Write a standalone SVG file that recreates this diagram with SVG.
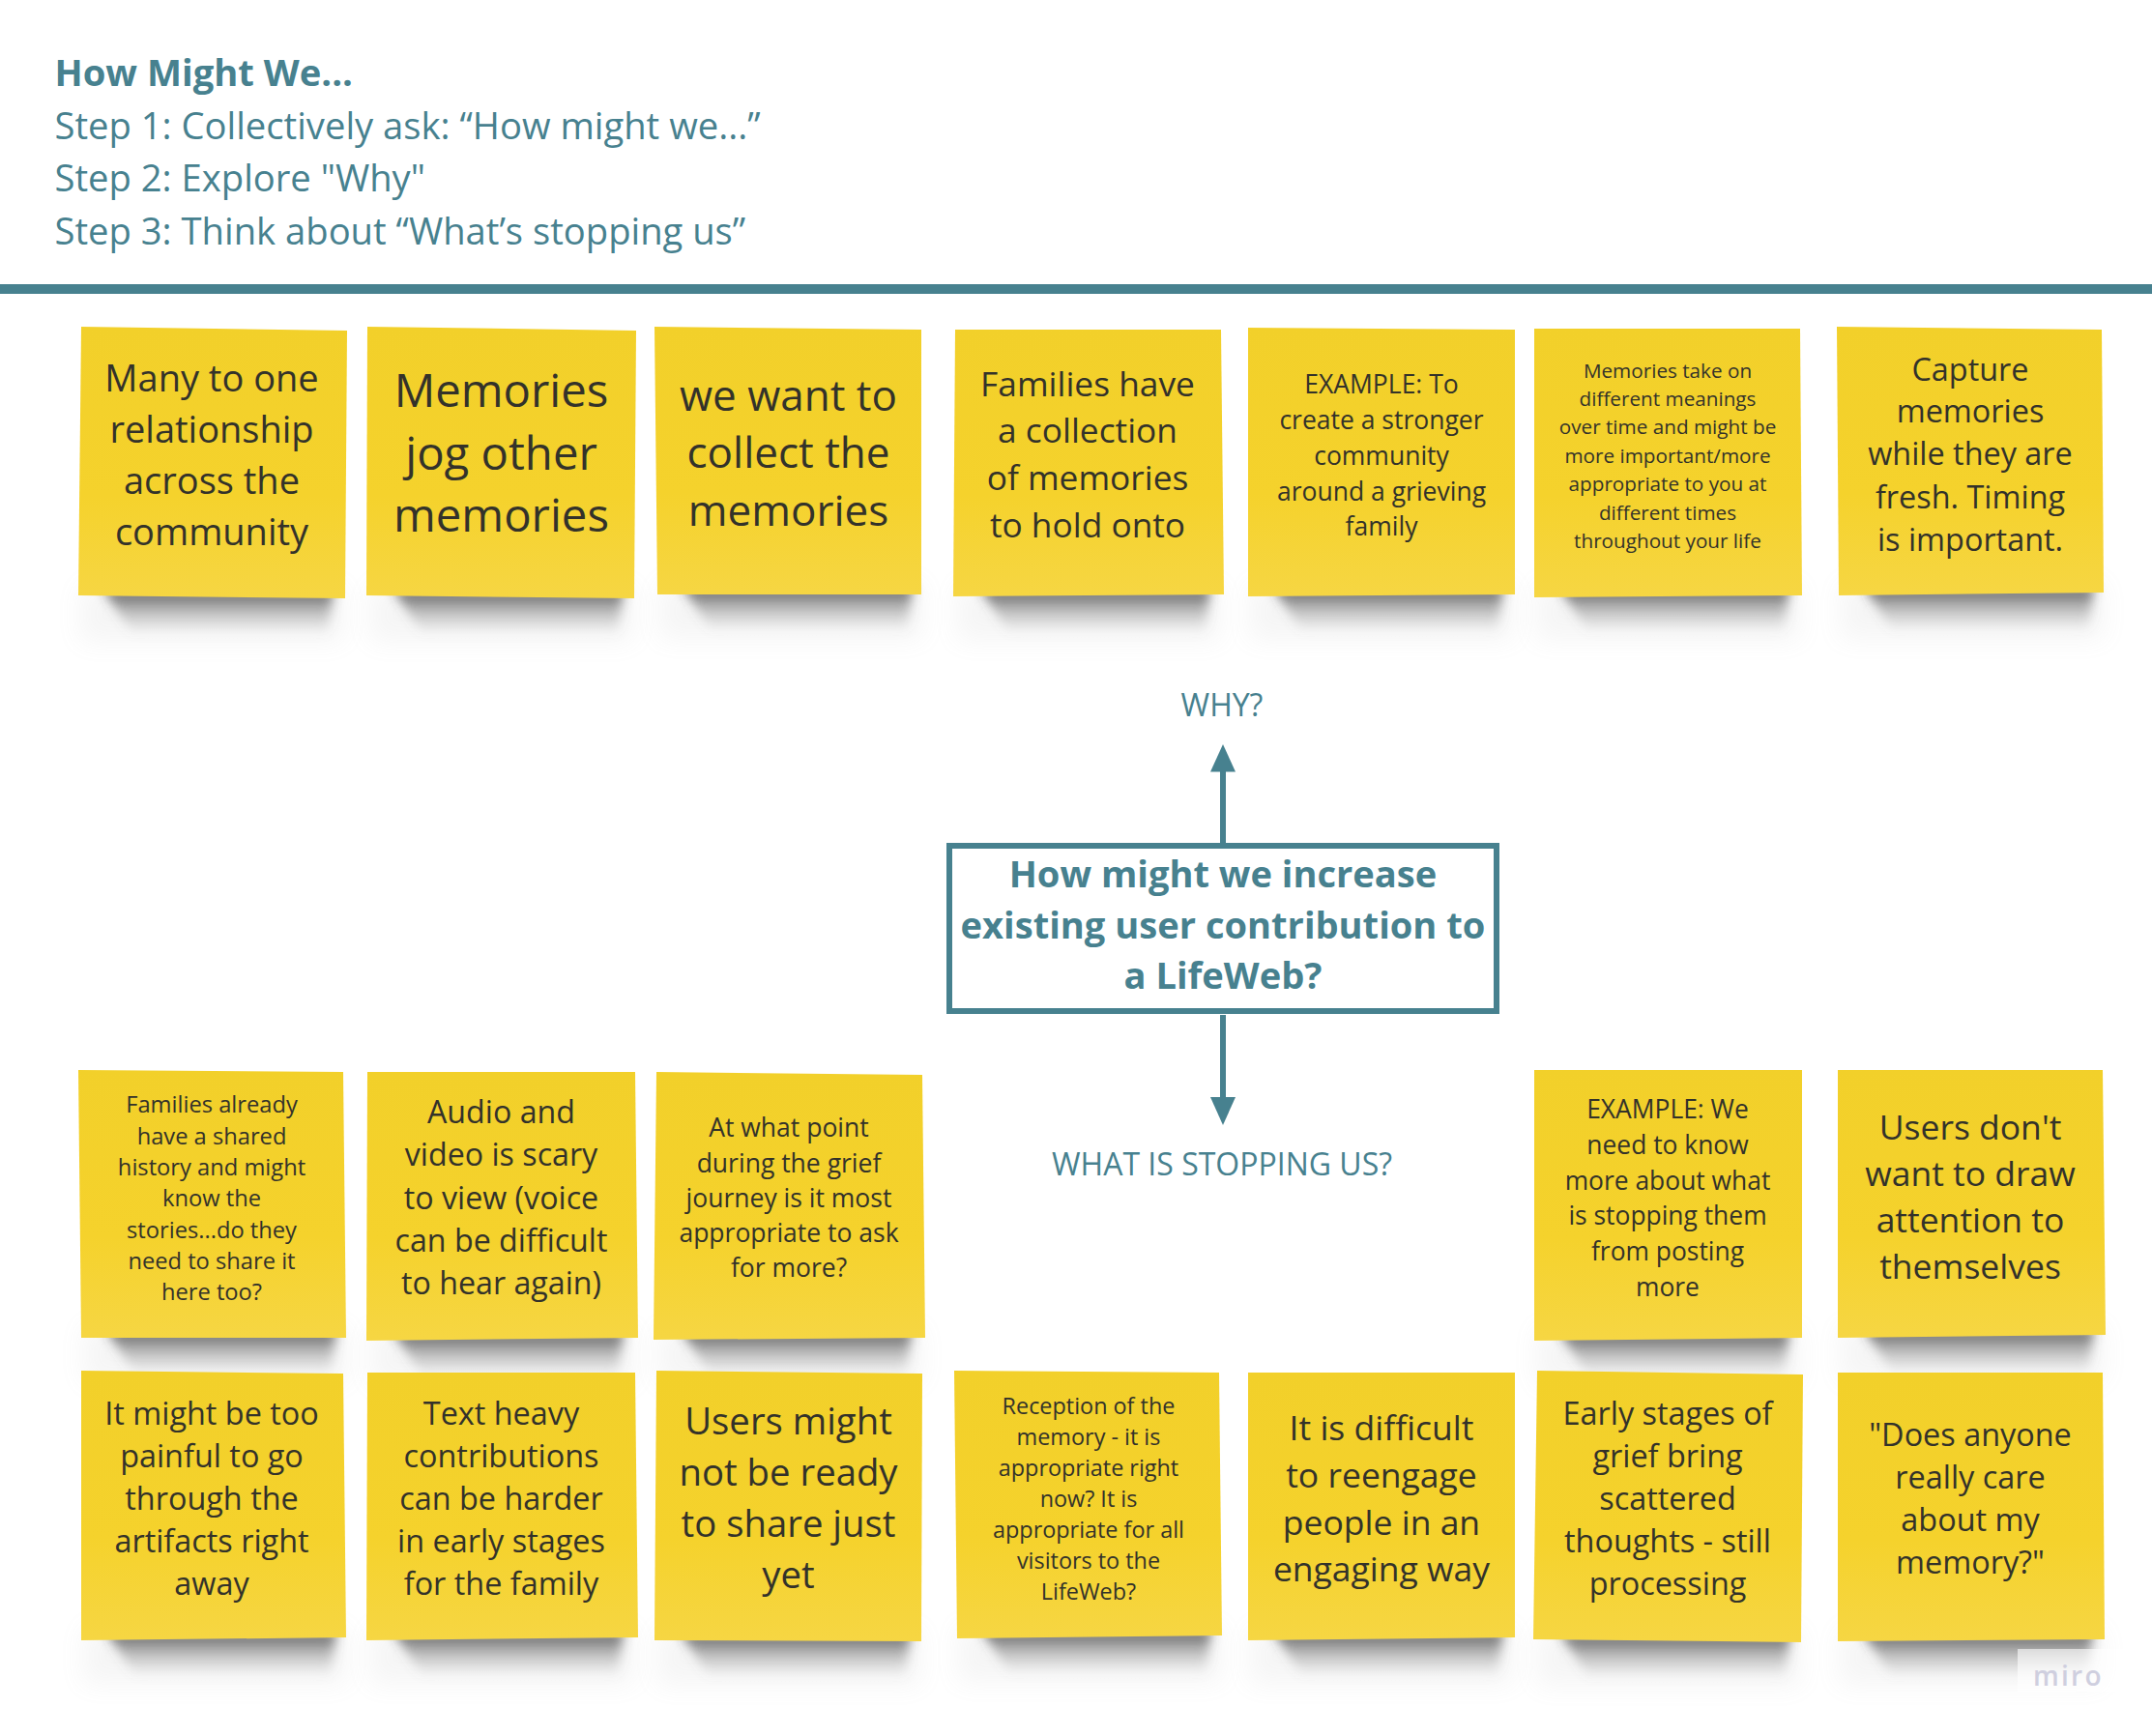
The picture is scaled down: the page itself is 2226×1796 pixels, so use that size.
<svg xmlns="http://www.w3.org/2000/svg" width="2226" height="1796" viewBox="0 0 2226 1796">
<style>
text{font-family:"Open Sans","Noto Sans",sans-serif}
.n text{fill:#33322a;text-anchor:middle}
.note{fill:url(#ng)}
.t{fill:#47818f}
.c{text-anchor:middle}
.conn line{stroke:#47818f;stroke-width:6}
.conn polygon{fill:#47818f}
</style>
<defs>
<linearGradient id="ng" x1="0" y1="0" x2="0" y2="1"><stop offset="0" stop-color="#f2d02a"/><stop offset=".62" stop-color="#f5d22c"/><stop offset="1" stop-color="#f6d643"/></linearGradient>
<linearGradient id="sg" x1="0" y1="0" x2="0" y2="1"><stop offset="0" stop-color="#2a2a2a" stop-opacity=".8"/><stop offset=".4" stop-color="#555" stop-opacity=".45"/><stop offset="1" stop-color="#888" stop-opacity="0"/></linearGradient>
<filter id="b1" x="-20%" y="-60%" width="140%" height="220%"><feGaussianBlur stdDeviation="6"/></filter>
<filter id="b2" x="-20%" y="-60%" width="140%" height="220%"><feGaussianBlur stdDeviation="13"/></filter>
<g id="shadow">
<rect x="2" y="-12" width="272" height="58" fill="#999" opacity=".09" filter="url(#b2)"/>
<polygon points="26,-8 264,-8 258,38 56,38" fill="url(#sg)" filter="url(#b1)"/>
</g>
</defs>
<rect width="2226" height="1796" fill="#fff"/>
<g id="header" class="t">
<text x="56.500" y="89" font-size="38.200" font-weight="700">How Might We...</text>
<text x="56.500" y="144" font-size="38.200">Step 1: Collectively ask: “How might we...”</text>
<text x="56.500" y="198" font-size="38.200">Step 2: Explore "Why"</text>
<text x="56.500" y="252.500" font-size="38.200">Step 3: Think about “What’s stopping us”</text>
</g>
<rect id="divider" x="0" y="294" width="2226" height="10" fill="#47818f"/>

<g id="n1" class="n"><use href="#shadow" x="81" y="618"/><polygon class="note" points="84,338 359,342 357,619 81,616"/><g font-size="38"><text x="219" y="404.500">Many to one</text><text x="219" y="457.500">relationship</text><text x="219" y="510.500">across the</text><text x="219" y="563.500">community</text></g></g>
<g id="n2" class="n"><use href="#shadow" x="381" y="618"/><polygon class="note" points="380,338 658,342 656,619 379,616"/><g font-size="47.300"><text x="518.500" y="421">Memories</text><text x="518.500" y="485.500">jog other</text><text x="518.500" y="550">memories</text></g></g>
<g id="n3" class="n"><use href="#shadow" x="680" y="615"/><polygon class="note" points="677,338 953,341 953,615 680,615"/><g font-size="44"><text x="815.500" y="424.500">we want to</text><text x="815.500" y="484">collect the</text><text x="815.500" y="543.500">memories</text></g></g>
<g id="n4" class="n"><use href="#shadow" x="988" y="617"/><polygon class="note" points="988,341 1263,341 1266,615 986,617"/><g font-size="35.300"><text x="1125" y="409.500">Families have</text><text x="1125" y="458">a collection</text><text x="1125" y="507">of memories</text><text x="1125" y="556">to hold onto</text></g></g>
<g id="n5" class="n"><use href="#shadow" x="1291" y="616"/><polygon class="note" points="1291,339 1567,341 1567,615 1291,617"/><g font-size="26.500"><text x="1429" y="407">EXAMPLE: To</text><text x="1429" y="444">create a stronger</text><text x="1429" y="481">community</text><text x="1429" y="517.500">around a grieving</text><text x="1429" y="554">family</text></g></g>
<g id="n6" class="n"><use href="#shadow" x="1587" y="616"/><polygon class="note" points="1587,340 1862,340 1864,616 1587,618"/><g font-size="20.700"><text x="1725" y="390.700">Memories take on</text><text x="1725" y="419.700">different meanings</text><text x="1725" y="449.300">over time and might be</text><text x="1725" y="479">more important/more</text><text x="1725" y="508">appropriate to you at</text><text x="1725" y="537.700">different times</text><text x="1725" y="567">throughout your life</text></g></g>
<g id="n7" class="n"><use href="#shadow" x="1902" y="615"/><polygon class="note" points="1900,338 2174,341 2176,613 1902,616"/><g font-size="32.400"><text x="2038" y="393.500">Capture</text><text x="2038" y="437">memories</text><text x="2038" y="481">while they are</text><text x="2038" y="525.500">fresh. Timing</text><text x="2038" y="569.500">is important.</text></g></g>

<g id="m1" class="n"><use href="#shadow" x="84" y="1384"/><polygon class="note" points="81,1107 355,1109 358,1384 84,1384"/><g font-size="23.700"><text x="219" y="1151">Families already</text><text x="219" y="1183.500">have a shared</text><text x="219" y="1215.700">history and might</text><text x="219" y="1248">know the</text><text x="219" y="1280.500">stories...do they</text><text x="219" y="1312.700">need to share it</text><text x="219" y="1345">here too?</text></g></g>
<g id="m2" class="n"><use href="#shadow" x="381" y="1386"/><polygon class="note" points="380,1109 657,1109 660,1384 379,1387"/><g font-size="32.200"><text x="518.500" y="1161.500">Audio and</text><text x="518.500" y="1206">video is scary</text><text x="518.500" y="1250.500">to view (voice</text><text x="518.500" y="1295">can be difficult</text><text x="518.500" y="1339">to hear again)</text></g></g>
<g id="m3" class="n"><use href="#shadow" x="679" y="1385"/><polygon class="note" points="679,1109 954,1112 957,1384 676,1386"/><g font-size="26.500"><text x="816" y="1176">At what point</text><text x="816" y="1212.500">during the grief</text><text x="816" y="1249">journey is it most</text><text x="816" y="1285">appropriate to ask</text><text x="816" y="1321">for more?</text></g></g>
<g id="m6" class="n"><use href="#shadow" x="1587" y="1386"/><polygon class="note" points="1587,1107 1864,1107 1864,1384 1587,1387"/><g font-size="26.400"><text x="1725" y="1157">EXAMPLE: We</text><text x="1725" y="1194">need to know</text><text x="1725" y="1231">more about what</text><text x="1725" y="1267">is stopping them</text><text x="1725" y="1304">from posting</text><text x="1725" y="1341">more</text></g></g>
<g id="m7" class="n"><use href="#shadow" x="1902" y="1383"/><polygon class="note" points="1901,1107 2175,1107 2178,1381 1901,1384"/><g font-size="35.500"><text x="2038" y="1178.500">Users don't</text><text x="2038" y="1226.500">want to draw</text><text x="2038" y="1275">attention to</text><text x="2038" y="1323">themselves</text></g></g>

<g id="b1n" class="n"><use href="#shadow" x="84" y="1696"/><polygon class="note" points="84,1418 355,1421 358,1694 84,1697"/><g font-size="32.400"><text x="219" y="1473.500">It might be too</text><text x="219" y="1517.500">painful to go</text><text x="219" y="1561.500">through the</text><text x="219" y="1605.500">artifacts right</text><text x="219" y="1649.500">away</text></g></g>
<g id="b2n" class="n"><use href="#shadow" x="381" y="1696"/><polygon class="note" points="380,1420 657,1420 660,1694 379,1697"/><g font-size="32.400"><text x="518.500" y="1473.500">Text heavy</text><text x="518.500" y="1517.500">contributions</text><text x="518.500" y="1561.500">can be harder</text><text x="518.500" y="1605.500">in early stages</text><text x="518.500" y="1649.500">for the family</text></g></g>
<g id="b3n" class="n"><use href="#shadow" x="678" y="1697"/><polygon class="note" points="679,1418 954,1421 953,1698 677,1697"/><g font-size="38.300"><text x="815.500" y="1483.500">Users might</text><text x="815.500" y="1536.500">not be ready</text><text x="815.500" y="1589.500">to share just</text><text x="815.500" y="1642.500">yet</text></g></g>
<g id="b4n" class="n"><use href="#shadow" x="989" y="1694"/><polygon class="note" points="987,1418 1261,1420 1264,1692 990,1695"/><g font-size="23.400"><text x="1126" y="1462.500">Reception of the</text><text x="1126" y="1494.500">memory - it is</text><text x="1126" y="1526.500">appropriate right</text><text x="1126" y="1558.500">now? It is</text><text x="1126" y="1590.500">appropriate for all</text><text x="1126" y="1622.500">visitors to the</text><text x="1126" y="1654.500">LifeWeb?</text></g></g>
<g id="b5n" class="n"><use href="#shadow" x="1291" y="1696"/><polygon class="note" points="1291,1420 1567,1420 1567,1694 1291,1697"/><g font-size="35.500"><text x="1429" y="1489.500">It is difficult</text><text x="1429" y="1538.500">to reengage</text><text x="1429" y="1587.500">people in an</text><text x="1429" y="1636">engaging way</text></g></g>
<g id="b6n" class="n"><use href="#shadow" x="1588" y="1698"/><polygon class="note" points="1590,1418 1865,1422 1863,1699 1586,1696"/><g font-size="32.400"><text x="1725" y="1473.500">Early stages of</text><text x="1725" y="1517.500">grief bring</text><text x="1725" y="1561.500">scattered</text><text x="1725" y="1605.500">thoughts - still</text><text x="1725" y="1649.500">processing</text></g></g>
<g id="b7n" class="n"><use href="#shadow" x="1901" y="1697"/><polygon class="note" points="1901,1420 2175,1420 2177,1696 1901,1698"/><g font-size="32.400"><text x="2038" y="1495.500">"Does anyone</text><text x="2038" y="1539.500">really care</text><text x="2038" y="1583.500">about my</text><text x="2038" y="1627.500">memory?"</text></g></g>

<g id="connectors" class="conn">
<line x1="1265" y1="872" x2="1265" y2="796"/><polygon points="1265,770 1278,798.500 1252,798.500"/>
<line x1="1265" y1="1050" x2="1265" y2="1137"/><polygon points="1265,1164 1278,1135 1252,1135"/>
</g>
<g id="center" class="t">
<rect x="982" y="875" width="566" height="171" fill="#fff" stroke="#47818f" stroke-width="6"/>
<g class="c" font-size="38.100" font-weight="700"><text x="1265" y="917.500">How might we increase</text><text x="1265" y="970.500">existing user contribution to</text><text x="1265" y="1022.500">a LifeWeb?</text></g>
</g>
<g id="why" class="t"><text class="c" x="1264" y="740.500" font-size="32">WHY?</text></g>
<g id="stop" class="t"><text class="c" x="1264" y="1216" font-size="32">WHAT IS STOPPING US?</text></g>
<g id="miro"><rect x="2087" y="1706" width="139" height="44" fill="#fff" opacity=".6"/><text x="2103" y="1744" font-size="28" font-weight="600" fill="#cfcfdf" letter-spacing="2.300">miro</text></g>
</svg>
